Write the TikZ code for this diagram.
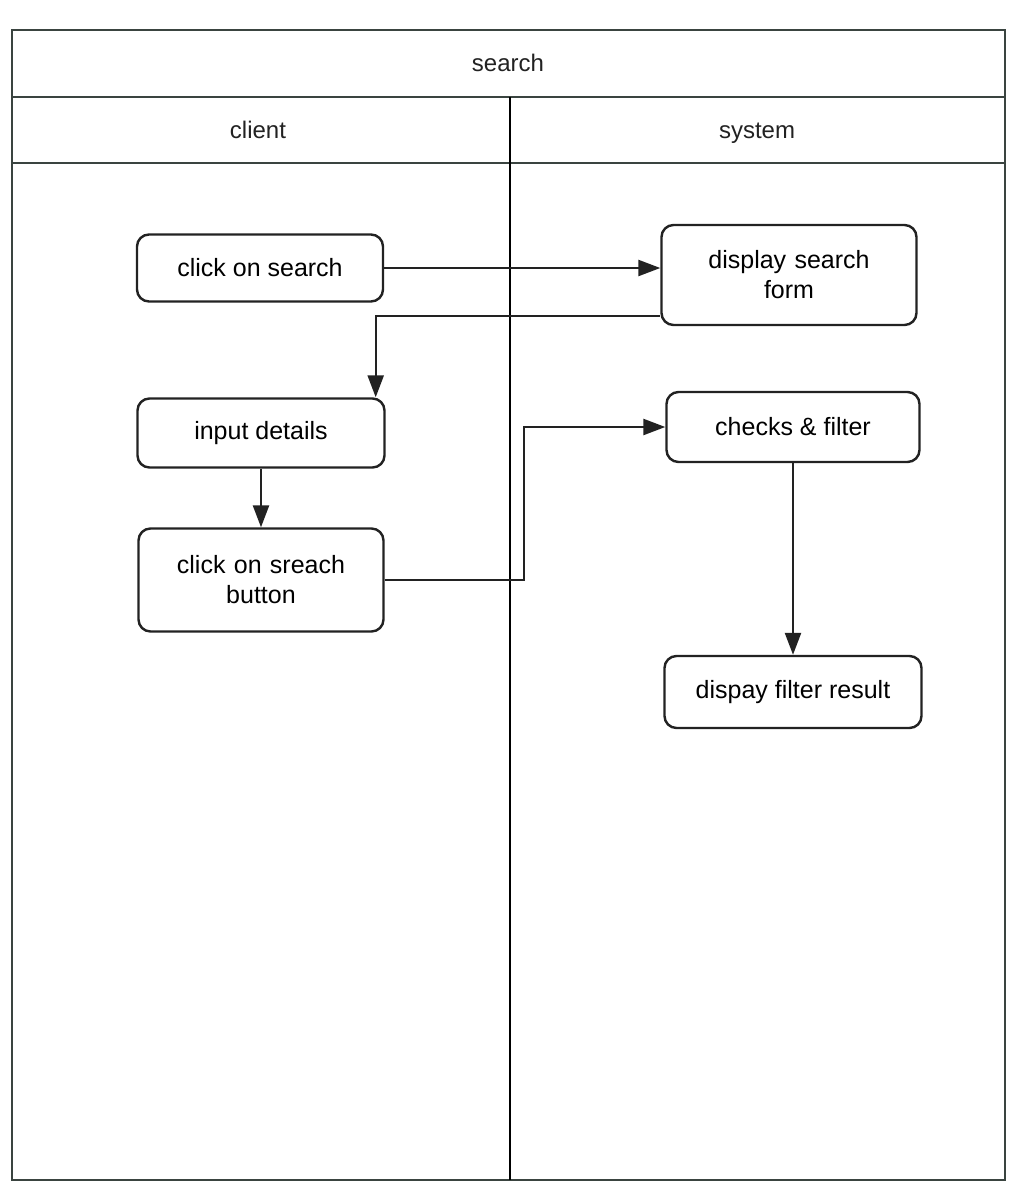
\documentclass[tikz,border=0pt]{standalone}
\usepackage{fontspec}
\setmainfont{Liberation Sans}
\usetikzlibrary{arrows.meta,calc}
\definecolor{frame}{HTML}{3A4440}
\definecolor{ink}{HTML}{222222}
\tikzset{
  act/.style={draw=ink, line width=2.4pt, rounded corners=12pt, fill=white,
    font=\fontsize{25}{30}\selectfont, align=center, inner sep=4pt},
  flow/.style={draw=ink, line width=2.4pt, -{Triangle[length=22pt,width=16pt]}},
  laneline/.style={draw=frame, line width=2.5pt},
  lbl/.style={font=\fontsize{24}{29}\selectfont, text=ink, anchor=base}
}
\begin{document}
\begin{tikzpicture}[x=1pt,y=-1pt]
\useasboundingbox (0,0) rectangle (1012,1184);
\fill[white] (0,0) rectangle (1012,1184);
% frame
\draw[laneline] (12,30) rectangle (1005,1180);
\draw[laneline] (12,97) -- (1005,97);
\draw[laneline] (12,163) -- (1005,163);
\draw[draw=black, line width=1.8pt] (510,97) -- (510,1180);
% headers
\node[lbl] (title) at (508,71) {search};
\node[lbl] (client) at (258,138) {client};
\node[lbl] (system) at (757,138) {system};
% activities
\node[act, minimum width=246pt, minimum height=67pt] (cs) at (260,268) {click on search};
\node[act, minimum width=255pt, minimum height=100pt, text width=230pt] (dsf) at (789,275) {display search\\form};
\node[act, minimum width=247pt, minimum height=69pt] (id) at (261,433) {input details};
\node[act, minimum width=245pt, minimum height=103pt, text width=225pt] (csb) at (261,580) {click on sreach\\button};
\node[act, minimum width=253pt, minimum height=70pt] (cf) at (793,427) {checks \& filter};
\node[act, minimum width=257pt, minimum height=72pt] (dfr) at (793,692) {dispay filter result};
% connectors
\draw[flow] (cs.east) -- (cs.east -| dsf.west);
\draw[flow] ([yshift=10pt]dsf.south west) -| ([xshift=-10pt]id.north east);
\draw[flow] (id.south) -- (id.south |- csb.north);
\coordinate (bend) at (524,580);
\draw[flow] (csb.east) -- (bend) |- (cf.west);
\draw[flow] (cf.south) -- (cf.south |- dfr.north);
\end{tikzpicture}
\end{document}
